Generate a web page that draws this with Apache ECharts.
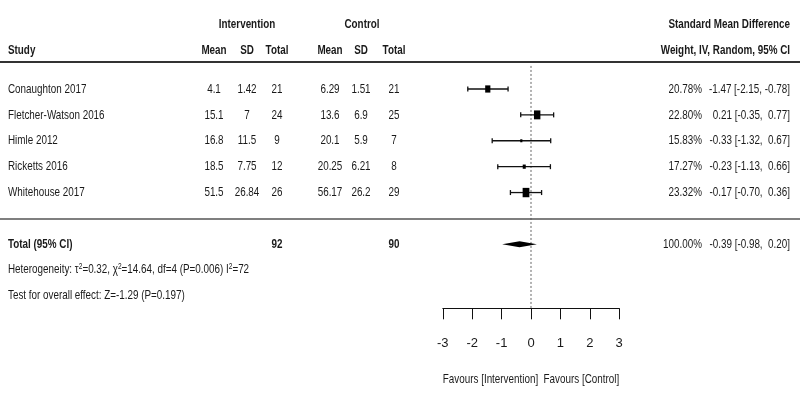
<!DOCTYPE html>
<html><head><meta charset="utf-8">
<script src="https://cdn.jsdelivr.net/npm/echarts@6/dist/echarts.min.js"></script>
<style>html,body{margin:0;padding:0;background:#fff}#c{width:800px;height:400px}</style>
</head><body><div id="c"></div>
<script>
// ---- data ----
const studies = ['Conaughton 2017', 'Fletcher-Watson 2016', 'Himle 2012', 'Ricketts 2016', 'Whitehouse 2017'];
const intMean = [4.1, 15.1, 16.8, 18.5, 51.5];
const intSD = [1.42, 7, 11.5, 7.75, 26.84];
const intN = [21, 24, 9, 12, 26];
const ctlMean = [6.29, 13.6, 20.1, 20.25, 56.17];
const ctlSD = [1.51, 6.9, 5.9, 6.21, 26.2];
const ctlN = [21, 25, 7, 8, 29];
const weight = [20.78, 22.80, 15.83, 17.27, 23.32];
const smd = [-1.47, 0.21, -0.33, -0.23, -0.17];
const ciLow = [-2.15, -0.35, -1.32, -1.13, -0.70];
const ciHigh = [-0.78, 0.77, 0.67, 0.66, 0.36];
const pooledEst = [-0.39];
const pooledLow = [-0.98];
const pooledHigh = [0.20];
const pooledWeight = [100.00];
const xTicks = [-3, -2, -1, 0, 1, 2, 3];
const totalLabel = 'Total (95% CI)';
const hetText = 'Heterogeneity: \u03c4{s|2}=0.32, \u03c7{s|2}=14.64, df=4 (P=0.006) I{s|2}=72';
const testText = 'Test for overall effect: Z=-1.29 (P=0.197)';
const xName = 'Favours [Intervention]  Favours [Control]';

// ---- layout ----
const FONT = '"Liberation Sans Narrow", "Arial Narrow", "Liberation Sans", sans-serif';
const FS = 13.5;
const NARROW = 0.73;
const INK = '#1a1a1a';
const COL = {study: 8, iMean: 214, iSD: 247, iN: 277, cMean: 330, cSD: 361, cN: 394, weight: 702, ci: 790, grpI: 247, grpC: 362};
const ROW = {group: -2.51, head: -1.51, topLine: -1.04, botLine: 5.02, total: 6, het: 6.97, test: 7.97, refTop: -0.89, axis: 8.47, name: 11.2};

function fmt(v) { return (v < 0 ? '-' : ' ') + Math.abs(v).toFixed(2); }
function ciStr(e, l, h) { return fmt(e) + ' [' + fmt(l) + ', ' + fmt(h) + ']'; }
function T(x, y, text, align, bold, extra) {
  const st = {text: String(text), fill: INK, fontSize: FS, fontFamily: FONT,
    fontWeight: bold ? 'bold' : 'normal', align: align, verticalAlign: 'middle'};
  if (extra) Object.assign(st, extra);
  return {type: 'text', x: x, y: y, scaleX: NARROW, style: st};
}
const sum = a => a.reduce((s, v) => s + v, 0);

const chart = echarts.init(document.getElementById('c'), null, {renderer: 'canvas'});
const option = {
  animation: false,
  backgroundColor: '#fff',
  grid: {left: 442.8, right: 180.8, top: 11.3, bottom: 91.7, containLabel: false},
  xAxis: {
    type: 'value', min: xTicks[0], max: xTicks[xTicks.length - 1], interval: 1,
    axisLine: {show: true, onZero: false, lineStyle: {color: '#111', width: 1}},
    axisTick: {show: true, length: 11, lineStyle: {color: '#111', width: 1}},
    axisLabel: {margin: 29, color: INK, fontSize: 13, fontFamily: FONT},
    splitLine: {show: false}
  },
  yAxis: {type: 'value', inverse: true, min: -3, max: ROW.axis, show: false},
  series: [
    { // reference line at 0
      type: 'line', data: [[0, ROW.refTop], [0, ROW.axis]], symbol: 'none', silent: true,
      lineStyle: {color: '#666', width: 1, type: [2, 2]}, z: 1
    },
    { // study rows text
      type: 'custom', clip: false, silent: true,
      data: studies.map((s, i) => [i]),
      renderItem: function (params, api) {
        const i = params.dataIndex;
        const y = api.coord([0, api.value(0)])[1];
        return {type: 'group', children: [
          T(COL.study, y, studies[i], 'left'),
          T(COL.iMean, y, intMean[i], 'center'),
          T(COL.iSD, y, intSD[i], 'center'),
          T(COL.iN, y, intN[i], 'center'),
          T(COL.cMean, y, ctlMean[i], 'center'),
          T(COL.cSD, y, ctlSD[i], 'center'),
          T(COL.cN, y, ctlN[i], 'center'),
          T(COL.weight, y, weight[i].toFixed(2) + '%', 'right'),
          T(COL.ci, y, ciStr(smd[i], ciLow[i], ciHigh[i]), 'right')
        ]};
      }
    },
    { // header, separators, total, footnotes, axis caption
      type: 'custom', clip: false, silent: true,
      data: [[0]],
      renderItem: function (params, api) {
        const Y = r => api.coord([0, r])[1];
        const yg = Y(ROW.group), yh = Y(ROW.head), yt = Y(ROW.total);
        return {type: 'group', children: [
          T(COL.grpI, yg, 'Intervention', 'center', true),
          T(COL.grpC, yg, 'Control', 'center', true),
          T(COL.ci, yg, 'Standard Mean Difference', 'right', true),
          T(COL.study, yh, 'Study', 'left', true),
          T(COL.iMean, yh, 'Mean', 'center', true),
          T(COL.iSD, yh, 'SD', 'center', true),
          T(COL.iN, yh, 'Total', 'center', true),
          T(COL.cMean, yh, 'Mean', 'center', true),
          T(COL.cSD, yh, 'SD', 'center', true),
          T(COL.cN, yh, 'Total', 'center', true),
          T(COL.ci, yh, 'Weight, IV, Random, 95% CI', 'right', true),
          {type: 'line', shape: {x1: 0, y1: Y(ROW.topLine), x2: 800, y2: Y(ROW.topLine)}, style: {stroke: '#333', lineWidth: 2}},
          {type: 'line', shape: {x1: 0, y1: Y(ROW.botLine), x2: 800, y2: Y(ROW.botLine)}, style: {stroke: '#555', lineWidth: 1.6}},
          T(COL.study, yt, totalLabel, 'left', true),
          T(COL.iN, yt, sum(intN), 'center', true),
          T(COL.cN, yt, sum(ctlN), 'center', true),
          T(COL.weight, yt, pooledWeight[0].toFixed(2) + '%', 'right'),
          T(COL.ci, yt, ciStr(pooledEst[0], pooledLow[0], pooledHigh[0]), 'right'),
          T(COL.study, Y(ROW.het), hetText, 'left', false,
            {rich: {s: {fontSize: 9, fontFamily: FONT, fill: INK, verticalAlign: 'top'}}}),
          T(COL.study, Y(ROW.test), testText, 'left'),
          T(api.coord([0, 0])[0], Y(ROW.name), xName, 'center')
        ]};
      }
    },
    { // study estimates with CIs
      type: 'custom', clip: false, silent: true, z: 3,
      data: studies.map((s, i) => [smd[i], ciLow[i], ciHigh[i], i, weight[i]]),
      renderItem: function (params, api) {
        const r = api.value(3);
        const pE = api.coord([api.value(0), r]);
        const pL = api.coord([api.value(1), r]);
        const pH = api.coord([api.value(2), r]);
        const h = 3 + (api.value(4) - 15.83) * 0.85;
        const w = h * 0.72;
        const cap = 2.5;
        const st = {stroke: '#111', lineWidth: 1.3};
        return {type: 'group', children: [
          {type: 'line', shape: {x1: pL[0], y1: pL[1], x2: pH[0], y2: pH[1]}, style: st},
          {type: 'line', shape: {x1: pL[0], y1: pL[1] - cap, x2: pL[0], y2: pL[1] + cap}, style: st},
          {type: 'line', shape: {x1: pH[0], y1: pH[1] - cap, x2: pH[0], y2: pH[1] + cap}, style: st},
          {type: 'rect', shape: {x: pE[0] - w / 2, y: pE[1] - h / 2, width: w, height: h}, style: {fill: '#000'}}
        ]};
      }
    },
    { // pooled diamond
      type: 'custom', clip: false, silent: true, z: 3,
      data: pooledEst.map((e, i) => [e, pooledLow[i], pooledHigh[i], ROW.total]),
      renderItem: function (params, api) {
        const r = api.value(3);
        const pE = api.coord([api.value(0), r]);
        const pL = api.coord([api.value(1), r]);
        const pH = api.coord([api.value(2), r]);
        const hh = 3;
        return {type: 'polygon', shape: {points: [[pL[0], pL[1]], [pE[0], pE[1] - hh], [pH[0], pH[1]], [pE[0], pE[1] + hh]]},
          style: {fill: '#000'}};
      }
    }
  ]
};
chart.setOption(option);
</script>
</body></html>
